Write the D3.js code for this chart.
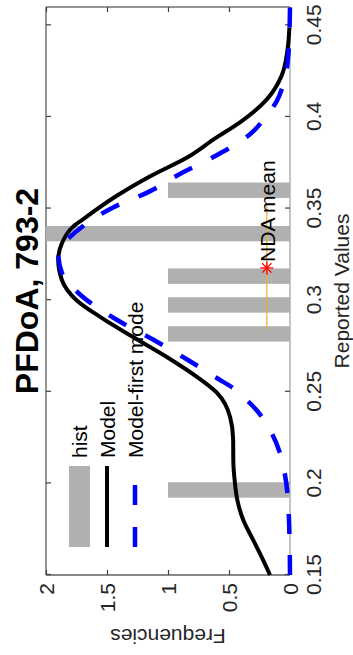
<!DOCTYPE html>
<html><head><meta charset="utf-8">
<script src="https://cdn.jsdelivr.net/npm/d3@7"></script>
<style>html,body{margin:0;padding:0;background:#fff;overflow:hidden}</style>
</head><body><svg id="c" width="353" height="655" xmlns="http://www.w3.org/2000/svg"></svg>
<script>
// ---- data ----
const titleText = "PFDoA, 793-2";
const xLabel = "Reported Values";
const yLabel = "Frequencies";
const xTicks = [0.15, 0.2, 0.25, 0.3, 0.35, 0.4, 0.45];
const yTicks = [0, 0.5, 1, 1.5, 2];
const xDomain = [0.15, 0.46];
const yDomain = [0, 2];

const histCenters = [0.1964, 0.2816, 0.2974, 0.3131, 0.3363, 0.3600];
const histCounts  = [1, 1, 1, 1, 2, 1];
const histBarWidth = 0.0084;

const modelX = [0.150, 0.158, 0.169, 0.180, 0.191, 0.200, 0.213, 0.224, 0.236, 0.2495, 0.258, 0.269, 0.280, 0.291, 0.300, 0.311, 0.322, 0.331, 0.340, 0.344, 0.357, 0.3675, 0.378, 0.388, 0.397, 0.4096, 0.4223, 0.4369, 0.4487];
const modelY = [0.164, 0.219, 0.301, 0.383, 0.432, 0.451, 0.465, 0.466, 0.490, 0.600, 0.760, 1.010, 1.290, 1.560, 1.750, 1.870, 1.900, 1.870, 1.780, 1.700, 1.420, 1.150, 0.840, 0.620, 0.410, 0.190, 0.070, 0.020, 0.005];

const firstModeX = [0.150, 0.170, 0.183, 0.194, 0.205, 0.2165, 0.2274, 0.2365, 0.2447, 0.252, 0.2575, 0.2675, 0.2784, 0.2893, 0.3019, 0.315, 0.326, 0.3347, 0.3402, 0.3506, 0.3587, 0.3697, 0.3784, 0.3904, 0.400, 0.4085, 0.419, 0.435, 0.447, 0.460];
const firstModeY = [0.000, 0.004, 0.010, 0.020, 0.042, 0.082, 0.150, 0.232, 0.342, 0.465, 0.600, 0.840, 1.120, 1.420, 1.700, 1.870, 1.900, 1.800, 1.700, 1.450, 1.170, 0.880, 0.620, 0.330, 0.200, 0.110, 0.050, 0.012, 0.004, 0.000];

const ndaMean = 0.3176, ndaLow = 0.2839, ndaHigh = 0.3512, ndaLevel = 0.19;
const ndaLabel = "NDA mean";
const legendLabels = ["hist", "Model", "Model-first mode"];

// ---- drawing ----
const FONT = "'Liberation Sans', Arial, Helvetica, sans-serif";
const svg = d3.select("#c");
const g = svg.append("g").attr("transform", "translate(0,655) rotate(-90)");

const x = d3.scaleLinear().domain(xDomain).range([80, 648]);
const y = d3.scaleLinear().domain(yDomain).range([290, 46]);
const [x0, x1] = x.range(), [y0, y1] = y.range();

// box
g.append("line").attr("x1", x0).attr("x2", x1).attr("y1", y1).attr("y2", y1).attr("stroke", "#707070").attr("stroke-width", 1.5);
g.append("line").attr("x1", x1).attr("x2", x1).attr("y1", y1).attr("y2", y0).attr("stroke", "#707070").attr("stroke-width", 1.5);
g.append("line").attr("x1", x0).attr("x2", x0).attr("y1", y1).attr("y2", y0).attr("stroke", "#606060").attr("stroke-width", 1.5);
g.append("line").attr("x1", x0).attr("x2", x1).attr("y1", y0).attr("y2", y0).attr("stroke", "#b0b0b0").attr("stroke-width", 1.5);

// axes
const fmt = d => String(d);
const xAxis = g.append("g").attr("transform", `translate(0,${y0})`)
  .call(d3.axisBottom(x).tickValues(xTicks).tickFormat(fmt).tickSize(-5).tickPadding(16));
const xAxisTop = g.append("g").attr("transform", `translate(0,${y1})`)
  .call(d3.axisTop(x).tickValues(xTicks).tickFormat("").tickSize(-5));
const yAxis = g.append("g").attr("transform", `translate(${x0},0)`)
  .call(d3.axisLeft(y).tickValues(yTicks).tickFormat(fmt).tickSize(-5).tickPadding(8));
const yAxisRight = g.append("g").attr("transform", `translate(${x1},0)`)
  .call(d3.axisRight(y).tickValues(yTicks).tickFormat("").tickSize(-5));
[xAxis, xAxisTop, yAxis, yAxisRight].forEach(a => {
  a.select(".domain").remove();
  a.selectAll(".tick line").attr("stroke", "#404040").attr("stroke-width", 1.2);
  a.selectAll("text").attr("font-family", FONT).attr("font-size", 21).attr("fill", "#262626");
});
yAxis.selectAll("text").attr("dy", "0.36em");

// histogram bars
g.append("g").selectAll("rect").data(histCenters).join("rect")
  .attr("x", (d) => x(d - histBarWidth / 2))
  .attr("width", (d) => x(d + histBarWidth / 2) - x(d - histBarWidth / 2))
  .attr("y", (d, i) => y(histCounts[i]))
  .attr("height", (d, i) => y(0) - y(histCounts[i]))
  .attr("fill", "#b0b0b0");

// curves
const line = d3.line().x(d => x(d[0])).y(d => y(d[1])).curve(d3.curveMonotoneX);
g.append("path").datum(modelX.map((v, i) => [v, modelY[i]]))
  .attr("d", line).attr("fill", "none").attr("stroke", "#000").attr("stroke-width", 4);
g.append("path").datum(firstModeX.map((v, i) => [v, firstModeY[i]]))
  .attr("d", line).attr("fill", "none").attr("stroke", "#0000ff").attr("stroke-width", 4.5)
  .attr("stroke-dasharray", "20,21");

// NDA mean errorbar + marker + text
g.append("line").attr("x1", x(ndaLow)).attr("x2", x(ndaHigh)).attr("y1", y(ndaLevel)).attr("y2", y(ndaLevel))
  .attr("stroke", "#EDB120").attr("stroke-width", 1.2);
const sx = x(ndaMean), sy = y(ndaLevel), r = 6.5;
const star = g.append("g").attr("stroke", "#ff0000").attr("stroke-width", 1.3);
[[r, 0], [0, r], [r * 0.72, r * 0.72], [r * 0.72, -r * 0.72]].forEach(([dx, dy]) => {
  star.append("line").attr("x1", sx - dx).attr("x2", sx + dx).attr("y1", sy - dy).attr("y2", sy + dy);
});
g.append("text").attr("x", sx + 6).attr("y", sy + 8).text(ndaLabel)
  .attr("font-family", FONT).attr("font-size", 21).attr("fill", "#000");

// legend (no box)
const lg = g.append("g");
const lx0 = 108, lx1 = 189, rows = [79.5, 107, 135];
lg.append("rect").attr("x", lx0).attr("width", lx1 - lx0).attr("y", rows[0] - 10.5).attr("height", 21).attr("fill", "#b0b0b0");
lg.append("line").attr("x1", lx0).attr("x2", lx1).attr("y1", rows[1]).attr("y2", rows[1]).attr("stroke", "#000").attr("stroke-width", 4);
lg.append("line").attr("x1", lx0).attr("x2", lx1).attr("y1", rows[2]).attr("y2", rows[2]).attr("stroke", "#0000ff").attr("stroke-width", 4.5).attr("stroke-dasharray", "20,22");
lg.selectAll("text").data(legendLabels).join("text")
  .attr("x", lx1 + 8).attr("y", (d, i) => rows[i] + 7.5).text(d => d)
  .attr("font-family", FONT).attr("font-size", 21).attr("fill", "#000");

// labels
g.append("text").attr("x", (x0 + x1) / 2).attr("y", 38).attr("text-anchor", "middle")
  .attr("font-family", FONT).attr("font-size", 32).attr("font-weight", "bold").attr("fill", "#000").text(titleText);
g.append("text").attr("x", (x0 + x1) / 2).attr("y", 348.5).attr("text-anchor", "middle")
  .attr("font-family", FONT).attr("font-size", 21).attr("fill", "#262626").text(xLabel);
g.append("text").attr("transform", `translate(26,${(y0 + y1) / 2}) rotate(-90)`).attr("text-anchor", "middle")
  .attr("font-family", FONT).attr("font-size", 21).attr("fill", "#262626").text(yLabel);
</script>
</body></html>
